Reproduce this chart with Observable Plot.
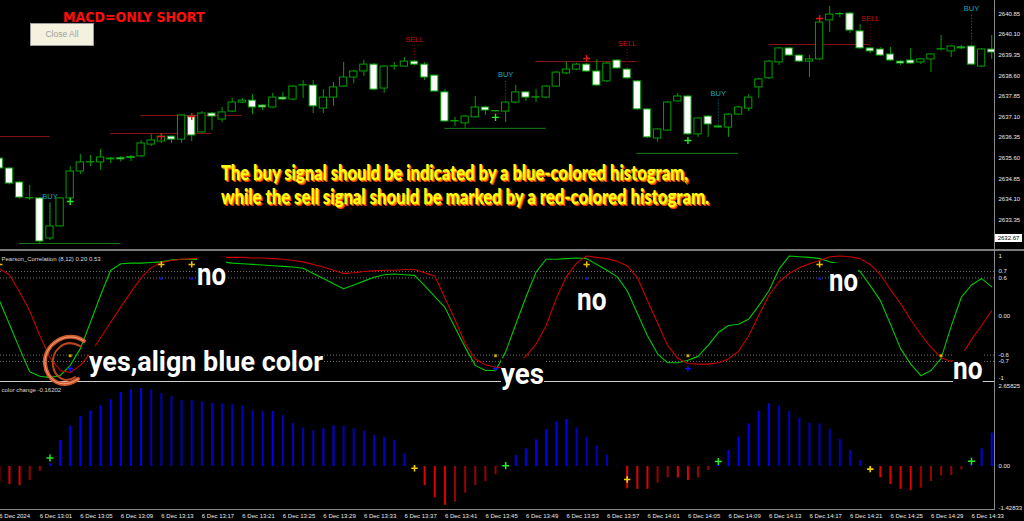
<!DOCTYPE html>
<html><head><meta charset="utf-8">
<script src="https://cdn.jsdelivr.net/npm/d3@7"></script>
<script src="https://cdn.jsdelivr.net/npm/@observablehq/plot@0.6"></script>
<style>
html,body{margin:0;padding:0;background:#000;overflow:hidden}
#wrap{position:relative;width:1024px;height:521px;background:#000;overflow:hidden}
#wrap svg.plot{position:absolute;left:0}
.ov{position:absolute}
</style></head><body><div id="wrap"></div>
<script>
// ---------- DATA ----------
const minute = d3.range(-3, 96); // minutes after 13:00, 6 Dec 2024
const open  = [2635.58,2635.22,2634.71,2634.13,2634.13,2632.67,2633.11,2634.13,2635.11,2635.44,2635.44,2635.58,2635.60,2635.64,2635.66,2636.09,2636.20,2636.38,2636.27,2637.11,2636.53,2637.22,2637.00,2637.29,2637.62,2637.69,2637.51,2637.44,2637.80,2637.73,2638.24,2638.24,2637.40,2637.80,2638.20,2638.53,2638.75,2639.00,2638.13,2638.93,2638.93,2639.11,2639.00,2638.60,2637.99,2636.93,2636.86,2637.08,2637.44,2637.30,2637.29,2637.62,2637.99,2637.80,2637.80,2638.20,2638.68,2638.82,2639.00,2638.75,2638.39,2639.15,2638.82,2638.39,2637.37,2636.31,2636.60,2637.66,2637.84,2636.46,2637.11,2636.75,2636.71,2637.18,2637.40,2638.17,2638.50,2639.08,2639.59,2639.33,2639.11,2639.19,2640.61,2640.83,2640.86,2640.21,2639.59,2639.55,2639.37,2639.11,2639.15,2639.08,2639.19,2639.55,2639.48,2639.63,2639.66,2638.93,2639.55];
const high  = [2635.65,2635.25,2634.75,2634.60,2634.16,2633.95,2634.16,2635.29,2635.73,2635.69,2635.91,2635.62,2635.66,2635.69,2636.24,2636.46,2636.46,2636.40,2637.18,2637.15,2637.29,2637.26,2637.44,2637.77,2637.77,2637.91,2637.55,2637.95,2637.99,2638.24,2638.42,2638.42,2638.09,2638.35,2639.08,2638.80,2639.15,2639.04,2638.96,2639.08,2639.26,2639.15,2639.08,2638.62,2638.09,2637.08,2637.15,2637.84,2637.48,2637.31,2637.66,2638.24,2638.02,2638.09,2638.24,2638.75,2639.08,2639.04,2639.04,2639.19,2639.08,2639.19,2638.86,2638.42,2637.40,2636.68,2637.66,2637.95,2637.88,2637.08,2637.15,2636.77,2637.22,2637.48,2637.91,2638.50,2639.15,2639.62,2639.62,2639.35,2639.33,2640.57,2641.12,2640.90,2640.90,2640.46,2639.62,2639.62,2639.62,2639.15,2639.59,2639.22,2639.40,2640.06,2639.70,2639.70,2639.70,2639.59,2640.06];
const low   = [2635.18,2634.62,2634.10,2634.05,2632.49,2632.60,2633.08,2634.10,2635.00,2635.29,2635.15,2635.40,2635.45,2635.47,2635.62,2636.02,2636.13,2636.13,2636.13,2636.20,2636.49,2636.60,2636.89,2637.26,2637.58,2637.18,2637.33,2637.40,2637.69,2637.69,2637.77,2637.22,2637.22,2637.48,2638.17,2638.30,2638.57,2638.06,2637.95,2638.79,2638.90,2638.96,2638.42,2638.00,2636.90,2636.75,2636.68,2637.04,2637.15,2637.27,2636.89,2637.58,2637.66,2637.62,2637.77,2638.17,2638.64,2638.79,2638.71,2638.20,2638.35,2638.82,2638.46,2637.33,2636.31,2636.17,2636.57,2637.62,2636.42,2636.35,2636.35,2636.69,2636.35,2637.15,2637.29,2637.77,2638.46,2638.97,2639.30,2639.08,2638.53,2639.15,2640.17,2640.70,2640.13,2639.55,2639.40,2639.30,2639.11,2638.97,2639.00,2639.00,2638.71,2639.50,2639.26,2639.55,2638.97,2638.90,2639.19];
const close = [2635.22,2634.67,2634.16,2634.14,2632.56,2633.11,2634.13,2635.11,2635.44,2635.45,2635.62,2635.55,2635.55,2635.60,2636.13,2636.24,2636.38,2636.27,2637.15,2636.42,2637.22,2637.11,2637.26,2637.62,2637.69,2637.44,2637.44,2637.80,2637.73,2638.20,2638.25,2637.48,2637.80,2638.17,2638.53,2638.75,2639.00,2638.09,2638.93,2638.94,2639.11,2639.00,2638.53,2638.02,2636.93,2636.92,2637.11,2637.44,2637.33,2637.29,2637.62,2637.99,2637.80,2637.81,2638.20,2638.71,2638.82,2639.00,2638.75,2638.24,2639.04,2638.86,2638.50,2637.37,2636.35,2636.64,2637.62,2637.84,2636.46,2637.04,2636.82,2636.71,2637.18,2637.44,2637.80,2638.46,2639.11,2639.59,2639.33,2639.11,2639.19,2640.53,2640.82,2640.82,2640.24,2639.59,2639.48,2639.33,2639.15,2639.04,2639.04,2639.19,2639.37,2639.56,2639.66,2639.59,2639.00,2639.55,2639.44];

const priceTicks = [2640.85,2640.10,2639.35,2638.60,2637.85,2637.10,2636.35,2635.60,2634.85,2634.10,2633.35];
const lastPrice = 2632.67;

// support / resistance segments
const resFrom = [-3, 8, 11, 50, 73];
const resTo   = [2, 18, 21, 60, 83];
const resPrice = [2636.38, 2636.49, 2637.15, 2639.11, 2639.73];
const supFrom = [-1, 41, 60];
const supTo   = [9, 51, 70];
const supPrice = [2632.49, 2636.68, 2635.77];

// signals
const buyMinute = [2, 47, 68, 93];
const buyLabelPrice = [2634.20, 2638.64, 2637.95, 2641.04];
const sellMinute = [38, 59, 83];
const sellLabelPrice = [2639.92, 2639.77, 2640.68];
const upArrowMinute = [4, 46, 65];
const upArrowPrice = [2634.02, 2637.08, 2636.24];
const downArrowMinute = [13, 16, 55, 78];
const downArrowPrice = [2636.38, 2637.11, 2639.22, 2640.68];

// Pearson correlation (8,12)
const pearsonFast = [0.25,-0.12,-0.50,-0.86,-0.93,-0.95,-0.92,-0.76,-0.50,-0.09,0.33,0.72,0.82,0.83,0.83,0.84,0.85,0.88,0.89,0.89,0.88,0.86,0.85,0.83,0.82,0.81,0.80,0.79,0.78,0.77,0.75,0.67,0.59,0.51,0.43,0.49,0.55,0.61,0.65,0.66,0.65,0.64,0.48,0.31,0.14,-0.17,-0.48,-0.76,-0.84,-0.84,-0.55,-0.12,0.30,0.69,0.89,0.89,0.90,0.91,0.90,0.81,0.72,0.62,0.40,0.05,-0.30,-0.58,-0.72,-0.72,-0.68,-0.62,-0.45,-0.25,-0.14,-0.12,-0.04,0.17,0.40,0.74,0.94,0.93,0.92,0.90,0.85,0.82,0.79,0.70,0.48,0.25,-0.12,-0.50,-0.74,-0.92,-0.84,-0.65,-0.15,0.30,0.49,0.59,0.46];
const pearsonSlow = [0.74,0.65,0.38,0.09,-0.30,-0.64,-0.84,-0.87,-0.76,-0.57,-0.33,-0.09,0.15,0.38,0.60,0.76,0.84,0.87,0.89,0.90,0.91,0.91,0.92,0.92,0.92,0.91,0.91,0.90,0.89,0.87,0.85,0.81,0.77,0.72,0.67,0.68,0.70,0.71,0.72,0.72,0.73,0.73,0.68,0.63,0.29,-0.05,-0.42,-0.66,-0.75,-0.79,-0.80,-0.72,-0.62,-0.43,-0.14,0.28,0.62,0.83,0.94,0.92,0.90,0.86,0.79,0.61,0.25,-0.10,-0.45,-0.65,-0.73,-0.74,-0.74,-0.72,-0.66,-0.54,-0.30,0.02,0.33,0.54,0.67,0.76,0.82,0.87,0.93,0.94,0.93,0.90,0.81,0.65,0.42,0.20,-0.05,-0.28,-0.48,-0.64,-0.70,-0.61,-0.36,-0.14,0.09];
const pearsonLevels = [0.7, 0.6, -0.6, -0.7];
const pearsonTicks = [0.7, 0.6, 0, -0.6, -0.7];
const yellowTopMinute = [-3, 13, 16, 55, 78];
const blueTopMinute = [13, 16, 55, 78];
const yellowBottomMinute = [4, 46, 65, 90];
const blueBottomMinute = [4, 46, 65];
const markerTop = [0.81, 0.59];      // yellow, blue
const markerBottom = [-0.61, -0.81]; // yellow, blue

// color change histogram
const histogram = [-0.55,-0.62,-0.66,-0.48,-0.17,0.09,0.90,1.39,1.72,1.91,2.10,2.30,2.55,2.64,2.69,2.64,2.51,2.41,2.28,2.27,2.23,2.17,2.16,2.13,2.08,1.92,1.89,1.90,1.75,1.49,1.33,1.24,1.30,1.41,1.39,1.30,1.22,1.07,1.01,0.90,0.44,-0.03,-0.66,-1.08,-1.34,-1.23,-0.92,-0.66,-0.52,-0.28,0.05,0.38,0.61,0.92,1.27,1.55,1.62,1.33,1.01,0.70,0.40,0.02,-0.77,-0.79,-0.79,-0.57,-0.39,-0.40,-0.48,-0.40,-0.14,0.05,0.55,1.01,1.47,1.90,2.16,2.09,1.90,1.67,1.49,1.47,1.29,0.94,0.55,0.21,-0.10,-0.39,-0.62,-0.79,-0.83,-0.75,-0.52,-0.33,-0.31,-0.12,0.05,0.61,1.15];
const histTop = 2.65825, histBottom = -1.42833;
const histBuyMinute = [2, 47, 68, 93];
const histBuyValue = [0.29, 0.03, 0.17, 0.18];
const histSellMinute = [38, 59, 83];
const histSellValue = [-0.06, -0.45, -0.09];

const timeTicks = [-3,1,5,9,13,17,21,25,29,33,37,41,45,49,53,57,61,65,69,73,77,81,85,89,93];
const timeLabels = ["6 Dec 2024","6 Dec 13:01","6 Dec 13:05","6 Dec 13:09","6 Dec 13:13","6 Dec 13:17","6 Dec 13:21","6 Dec 13:25","6 Dec 13:29","6 Dec 13:33","6 Dec 13:37","6 Dec 13:41","6 Dec 13:45","6 Dec 13:49","6 Dec 13:53","6 Dec 13:57","6 Dec 14:01","6 Dec 14:05","6 Dec 14:09","6 Dec 14:13","6 Dec 14:17","6 Dec 14:21","6 Dec 14:25","6 Dec 14:29","6 Dec 14:33"];

// ---------- BUILD ----------
const wrap = document.getElementById("wrap");
const X = {domain: [-2.8834, 95.3716]};
const base = {width: 1024, marginLeft: 0, marginRight: 29, marginTop: 0};
const style = {background: "transparent", color: "#e0e0e0", fontFamily: "'Liberation Sans', Arial, sans-serif", fontSize: "6px", overflow: "visible"};
const GREEN = "#00a000";
const idx = t => minute.indexOf(t);
const zip = (a, b) => a.map((t, i) => ({t, v: b[i]}));

const candles = minute.map((t, i) => ({t, o: open[i], h: high[i], l: low[i], c: close[i]}));
const res = resPrice.map((p, i) => ({p, a: resFrom[i], b: resTo[i]}));
const sup = supPrice.map((p, i) => ({p, a: supFrom[i], b: supTo[i]}));
const buys = buyMinute.map((t, i) => ({t, y: buyLabelPrice[i], low: low[idx(t)]}));
const sells = sellMinute.map((t, i) => ({t, y: sellLabelPrice[i], c: close[idx(t)]}));

function place(svg, top) {
  svg.classList.add("plot");
  svg.style.top = top + "px";
  wrap.appendChild(svg);
}

const mainPlot = Plot.plot({
  ...base, height: 249, marginBottom: 0, style,
  x: {...X, axis: null},
  y: {domain: [2632.270, 2641.334], label: null},
  marks: [
    Plot.ruleY(res, {y: "p", x1: "a", x2: "b", stroke: "#8b1414", clip: true}),
    Plot.ruleY(sup, {y: "p", x1: "a", x2: "b", stroke: "#1c7a1c", clip: true}),
    Plot.ruleX(buys, {x: "t", y1: d => d.y - 0.24, y2: "low", stroke: "#0b7f8c", strokeDasharray: "1,2"}),
    Plot.ruleX(sells, {x: "t", y1: d => d.y - 0.22, y2: "c", stroke: "#8b0000", strokeDasharray: "1,2"}),
    Plot.ruleX(candles, {x: "t", y1: "l", y2: "h", stroke: GREEN, clip: true}),
    Plot.rect(candles, {x1: d => d.t - 0.36, x2: d => d.t + 0.36, y1: "o",
      y2: d => Math.abs(d.c - d.o) < 0.02 ? d.o + 0.012 : d.c,
      fill: d => d.c < d.o ? "#ffffff" : "#000000", stroke: GREEN, strokeWidth: 1, clip: true}),
    Plot.text(buys, {x: "t", y: "y", text: () => "BUY", fill: "#17a7b7", fontSize: 7.5}),
    Plot.text(sells, {x: "t", y: "y", text: () => "SELL", fill: "#c41010", fontSize: 7.5}),
    Plot.dot(zip(upArrowMinute, upArrowPrice), {x: "t", y: "v", symbol: "plus", r: 2.4, stroke: "#22ee22", strokeWidth: 1.4}),
    Plot.dot(zip(downArrowMinute, downArrowPrice), {x: "t", y: "v", symbol: "plus", r: 2.4, stroke: "#e01818", strokeWidth: 1.4}),
    Plot.axisY({anchor: "right", label: null, ticks: priceTicks, tickFormat: d => d.toFixed(2), tickSize: 0, tickPadding: 3, fill: "#e8e8e8"})
  ]
});
place(mainPlot, 0);

const pf = minute.map((t, i) => ({t, v: pearsonFast[i]}));
const ps = minute.map((t, i) => ({t, v: pearsonSlow[i]}));
const pearsonPlot = Plot.plot({
  ...base, height: 130, marginBottom: 0, style,
  x: {...X, axis: null},
  y: {domain: [-1.0109, 1.0109], label: null},
  marks: [
    Plot.ruleY(pearsonLevels, {stroke: "#6e6e6e", strokeDasharray: "1,2"}),
    Plot.line(pf, {x: "t", y: "v", stroke: "#00c800", strokeWidth: 1.1}),
    Plot.line(ps, {x: "t", y: "v", stroke: "#c80000", strokeWidth: 1.1}),
    Plot.dot(yellowTopMinute, {x: d => d, y: () => markerTop[0], symbol: "plus", r: 2.2, stroke: "#f0c000", strokeWidth: 1.5}),
    Plot.dot(blueTopMinute, {x: d => d, y: () => markerTop[1], symbol: "square", r: 1.3, fill: "#1010ff"}),
    Plot.dot(yellowBottomMinute, {x: d => d, y: () => markerBottom[0], symbol: "square", r: 1.5, fill: "#e0c000", stroke: "#806000", strokeWidth: 0.5}),
    Plot.dot(blueBottomMinute, {x: d => d, y: () => markerBottom[1], symbol: "plus", r: 2, stroke: "#1010ff", strokeWidth: 1.4}),
    Plot.axisY({anchor: "right", label: null, ticks: pearsonTicks, tickFormat: d => d === 0 ? "0.00" : String(d), tickSize: 0, tickPadding: 3, fill: "#e8e8e8"}),
    Plot.text([1], {y: d => d, frameAnchor: "right", dx: 3, dy: 4, textAnchor: "start", text: d => String(d), fill: "#e8e8e8"}),
    Plot.text([-1], {y: d => d, frameAnchor: "right", dx: 3, dy: -3, textAnchor: "start", text: d => String(d), fill: "#e8e8e8"}),
    Plot.text(["Pearson_Correlation (8,12) 0.20 0.53"], {frameAnchor: "top-left", dx: 1, dy: 5, textAnchor: "start", text: d => d, fill: "#d8d8d8"})
  ]
});
place(pearsonPlot, 251);

const hist = minute.map((t, i) => ({t, v: histogram[i], prev: i > 0 ? histogram[i - 1] : histogram[i]}));
const histColor = d => d.v >= 0 ? (d.v >= d.prev ? "#0000f0" : "#0000c0") : (d.v <= d.prev ? "#e00000" : "#9a0000");
const labelOf = new Map(timeTicks.map((t, i) => [t, timeLabels[i]]));
const histPlot = Plot.plot({
  ...base, height: 138, marginBottom: 12, style,
  x: {...X, label: null},
  y: {domain: [-1.4828, 2.8621], axis: null},
  marks: [
    Plot.ruleX(hist, {x: "t", y1: 0, y2: "v", stroke: histColor, strokeWidth: 2, clip: true}),
    Plot.dot(zip(histBuyMinute, histBuyValue), {x: "t", y: "v", symbol: "plus", r: 2.4, stroke: "#22ee22", strokeWidth: 1.5}),
    Plot.dot(zip(histSellMinute, histSellValue), {x: "t", y: "v", symbol: "plus", r: 2.2, stroke: "#f0d000", strokeWidth: 1.6}),
    Plot.text([0], {y: d => d, frameAnchor: "right", dx: 3, textAnchor: "start", text: () => "0.00", fill: "#e8e8e8"}),
    Plot.text([histTop], {y: d => d, frameAnchor: "right", dx: 3, dy: -3, textAnchor: "start", text: d => d.toFixed(5), fill: "#e8e8e8"}),
    Plot.text([histBottom], {y: d => d, frameAnchor: "right", dx: 3, textAnchor: "start", text: d => d.toFixed(5), fill: "#e8e8e8"}),
    Plot.text(["color change -0.16202"], {frameAnchor: "top-left", dx: 1, dy: 4, textAnchor: "start", text: d => d, fill: "#d8d8d8"}),
    Plot.axisX({label: null, ticks: timeTicks, tickFormat: d => labelOf.get(d), textAnchor: "start", tickSize: 0, tickPadding: 4, fill: "#e8e8e8"})
  ]
});
place(histPlot, 383);

// ---------- chart chrome ----------
function box(css) { const d = document.createElement("div"); d.className = "ov"; d.style.cssText = css; wrap.appendChild(d); return d; }
box("left:0;top:249px;width:1024px;height:2px;background:#7a7a7a");
box("left:0;top:381px;width:995px;height:1px;background:#d0d0d0");
box("left:0;top:509px;width:995px;height:1px;background:#8a8a8a");
box("left:994px;top:0;width:1px;height:509px;background:#8a8a8a");
const pb = box("left:995px;top:234px;width:27px;height:8px;background:#fff;color:#000;font:6px 'Liberation Sans',Arial;line-height:8px;text-align:center");
pb.textContent = lastPrice.toFixed(2);

// ---------- annotations ----------
function fitText(txt, left, baseline, width, size, css) {
  const d = document.createElement("div");
  d.style.cssText = `position:absolute;left:0;top:0;white-space:nowrap;font-size:${size}px;line-height:1.15;transform-origin:0 0;${css}`;
  d.appendChild(document.createTextNode(txt));
  const m = document.createElement("span");
  m.style.cssText = "display:inline-block;width:0;height:0;vertical-align:baseline";
  d.appendChild(m);
  wrap.appendChild(d);
  const r = d.getBoundingClientRect();
  const b = m.getBoundingClientRect().bottom - r.top;
  d.style.left = left + "px";
  d.style.top = (baseline - b) + "px";
  d.style.transform = `scaleX(${width / r.width})`;
  return d;
}
const btn = box("left:30px;top:23px;width:62px;height:21px;background:#f4f2de;border:1px solid #9c9c9c;color:#a0a0a0;font:8.5px 'Liberation Sans',Arial;line-height:21px;text-align:center");
btn.textContent = "Close All";
fitText("MACD=ONLY SHORT", 62.5, 22.3, 141.5, 14.5, "font-family:'DejaVu Sans';font-weight:bold;color:#ff0d0d");

const yel = "font-family:Lato;font-weight:900;color:#ffff10;text-shadow:1px 1px 0 #ff9a00,2px 2px 0 #e53a00";
fitText("The buy signal should be indicated by a blue-colored histogram,", 221, 179.5, 467, 20, yel);
fitText("while the sell signal should be marked by a red-colored histogram.", 221, 203.5, 488, 20, yel);

const wt = "font-family:Roboto;font-weight:bold;color:#ffffff;background:#000";
fitText("yes,align blue color", 89, 370.5, 234, 28, wt);
fitText("yes", 501, 384, 43, 29, wt);
fitText("no", 196.5, 285, 29, 31, wt);
fitText("no", 577, 310, 29.5, 31, wt);
fitText("no", 829, 290.7, 29, 31, wt);
fitText("no", 952.5, 379, 29.5, 31, wt);

// hand-drawn circle mark
const ns = "http://www.w3.org/2000/svg";
const ov = document.createElementNS(ns, "svg");
ov.setAttribute("width", 1024); ov.setAttribute("height", 521);
ov.style.cssText = "position:absolute;left:0;top:0;pointer-events:none";
[["M84,341 C66,329 43,345 45,364 C47,381 62,390 78,379", "#cf5a2c", 4],
 ["M80,346 C63,337 51,352 53,366 C55,378 66,384 75,377", "#b8451c", 2],
 ["M84,341 C66,329 43,345 45,364 C47,381 62,390 78,379", "#f2a27c", 1]].forEach(([p, c, w]) => {
  const e = document.createElementNS(ns, "path");
  e.setAttribute("d", p); e.setAttribute("fill", "none"); e.setAttribute("stroke", c);
  e.setAttribute("stroke-width", w); e.setAttribute("stroke-linecap", "round");
  ov.appendChild(e);
});
wrap.appendChild(ov);
</script></body></html>
